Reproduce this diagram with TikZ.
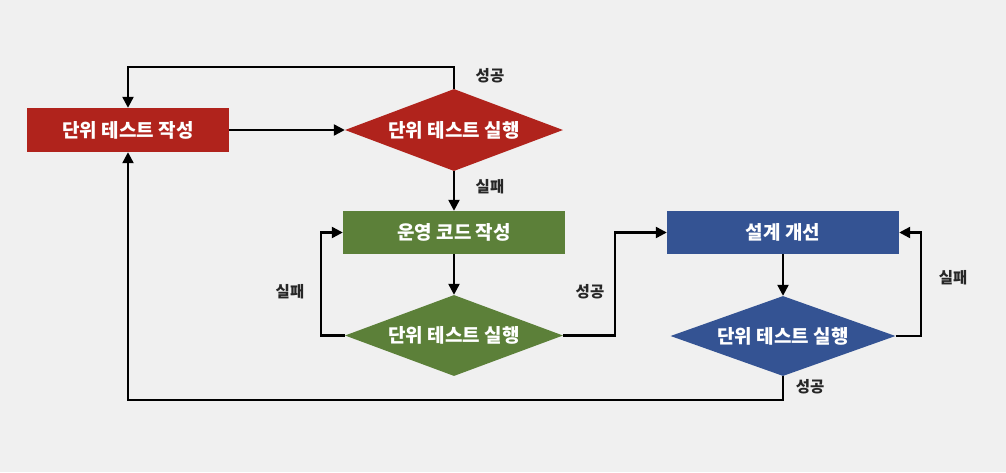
\documentclass[tikz,border=0pt]{standalone}
\usepackage{fontspec}
\setmainfont{Noto Sans CJK KR}
\usetikzlibrary{shapes.geometric,arrows.meta}
\definecolor{bgcol}{HTML}{F0F0F0}
\definecolor{cred}{HTML}{B0231C}
\definecolor{cgreen}{HTML}{5C8039}
\definecolor{cblue}{HTML}{345393}
\begin{document}
\begin{tikzpicture}[x=1pt,y=-1pt,
  boxnode/.style={rectangle, inner sep=0pt, text=white, font=\fontsize{19}{21}\selectfont\bfseries},
  dianode/.style={diamond, aspect=2.7, inner sep=0pt, text=white, font=\fontsize{19}{21}\selectfont\bfseries},
  arr/.style={line width=2.3pt, -{Triangle[length=11pt,width=11pt]}},
  lbl/.style={font=\fontsize{15.5}{17}\selectfont\bfseries, text=black!85, inner sep=0pt}
]
\fill[bgcol] (0,0) rectangle (1006,472);
\node[boxnode, fill=cred, minimum width=202pt, minimum height=44pt] (w) at (128,130) {단위 테스트 작성};
\node[dianode, fill=cred, minimum width=218pt, minimum height=82pt] (r1) at (454,130) {단위 테스트 실행};
\node[boxnode, fill=cgreen, minimum width=222pt, minimum height=43pt] (g) at (454,232.5) {운영 코드 작성};
\node[dianode, fill=cgreen, minimum width=218pt, minimum height=81pt] (r2) at (454,335.5) {단위 테스트 실행};
\node[boxnode, fill=cblue, minimum width=232pt, minimum height=43pt] (b) at (783,232.5) {설계 개선};
\node[dianode, fill=cblue, minimum width=225pt, minimum height=80pt] (r3) at (783,336) {단위 테스트 실행};

\draw[arr] (w.east) -- (r1.west);
\draw[arr] (r1.north) -- ++(0,-22) -| (w.north);
\draw[arr] (r1.south) -- (g.north);
\draw[arr] (g.south) -- (r2.north);
\draw[arr] (r2.west) -- ++(-24,0) |- (g.west);
\draw[arr] (r2.east) -- ++(52,0) |- (b.west);
\draw[arr] (b.south) -- (r3.north);
\draw[arr] (r3.east) -- ++(25,0) |- (b.east);
\draw[arr] (r3.south) -- ++(0,24) -| (w.south);

\node[lbl] (l1) at (490,76) {성공};
\node[lbl] (l2) at (490,187) {실패};
\node[lbl] (l3) at (290,292) {실패};
\node[lbl] (l4) at (590,292) {성공};
\node[lbl] (l5) at (953,278) {실패};
\node[lbl] (l6) at (810,387) {성공};
\end{tikzpicture}
\end{document}
